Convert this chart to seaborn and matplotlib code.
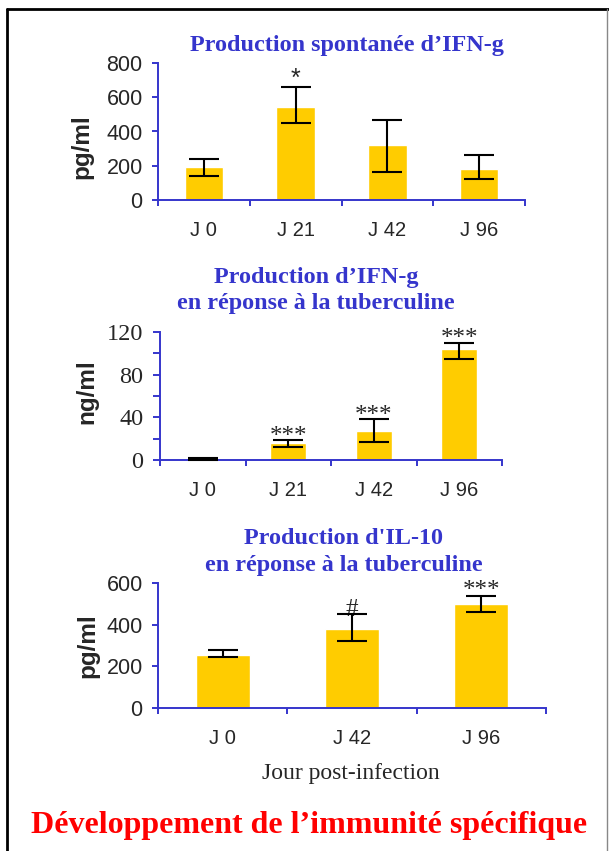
import numpy as np
import pandas as pd
import matplotlib
matplotlib.use("Agg")
import matplotlib.pyplot as plt
import seaborn as sns
from matplotlib.lines import Line2D

# Données
jours_ifn = ["J 0", "J 21", "J 42", "J 96"]
ifn_spont = [190, 545, 320, 180]
ifn_spont_bas = [140, 450, 165, 120]
ifn_spont_haut = [240, 660, 470, 260]
ifn_spont_sig = ["", "*", "", ""]

ifn_tub = [0.6, 16, 27, 104]
ifn_tub_bas = [0.4, 12, 17, 95]
ifn_tub_haut = [1.8, 19, 38, 110]
ifn_tub_sig = ["", "***", "***", "***"]

jours_il10 = ["J 0", "J 42", "J 96"]
il10 = [255, 380, 500]
il10_bas = [245, 320, 460]
il10_haut = [280, 450, 540]
il10_sig = ["", "#", "***"]

BLEU = "#3535cc"
JAUNE = "#ffcc00"
SANS = ["Liberation Sans", "DejaVu Sans"]
SERIF = ["Liberation Serif", "DejaVu Serif"]

sns.set_style("white")
plt.rcParams["font.family"] = SANS

fig = plt.figure(figsize=(6.09, 8.51), dpi=100)


def panneau(rect, jours, valeurs, bas, haut, sig, ymax, yticks, ylabel,
            police_y, taille_y, label_xy, minor_y=None, sig_offset=0, tick_len=4):
    ax = fig.add_axes(rect)
    df = pd.DataFrame({"jour": jours, "val": valeurs})
    sns.barplot(data=df, x="jour", y="val", color=JAUNE, width=0.42,
                saturation=1, ax=ax, errorbar=None)
    pos = np.arange(len(jours))
    yerr = [np.array(valeurs) - np.array(bas), np.array(haut) - np.array(valeurs)]
    ax.errorbar(pos, valeurs, yerr=yerr, fmt="none", ecolor="black",
                elinewidth=1.5, capsize=11, capthick=1.5, clip_on=False, zorder=4)
    for p, h, s in zip(pos, haut, sig):
        if s:
            fam = SANS if s == "*" else SERIF
            ax.annotate(s, (p, h), xytext=(0, sig_offset), textcoords="offset points",
                        ha="center", va="baseline", fontsize=18, family=fam)
    ax.set_xlim(-0.5, len(jours) - 0.5)
    ax.set_ylim(0, ymax)
    for side in ["top", "right"]:
        ax.spines[side].set_visible(False)
    for side in ["left", "bottom"]:
        ax.spines[side].set_color(BLEU)
        ax.spines[side].set_linewidth(1.4)
    ax.set_xticks(np.arange(len(jours) + 1) - 0.5)
    ax.set_xticklabels([])
    ax.set_xticks(pos, minor=True)
    ax.set_xticklabels(jours, minor=True)
    ax.tick_params(axis="x", which="major", direction="out", length=4,
                   width=1.4, color=BLEU, bottom=True)
    ax.tick_params(axis="x", which="minor", length=0, pad=15,
                   labelsize=14.5, labelfontfamily=SANS)
    ax.set_yticks(yticks)
    ax.set_yticklabels([str(t) for t in yticks])
    if minor_y is not None:
        ax.set_yticks(minor_y, minor=True)
    ax.tick_params(axis="y", which="both", direction="out", length=tick_len,
                   width=1.4, color=BLEU, left=True, pad=7)
    ax.tick_params(axis="y", which="major", labelsize=taille_y,
                   labelfontfamily=police_y)
    ax.set_xlabel("")
    ax.set_ylabel(ylabel, fontsize=17.5, fontweight="bold", family=SANS, va="center")
    ax.yaxis.set_label_coords(*label_xy)
    return ax


ax1 = panneau([158 / 609, 1 - 200 / 851, 367 / 609, 137 / 851], jours_ifn,
              ifn_spont, ifn_spont_bas, ifn_spont_haut, ifn_spont_sig,
              800, [0, 200, 400, 600, 800], "pg/ml", SANS, 15.5,
              ((82 - 158) / 367, 0.387), sig_offset=1)

ax2 = panneau([160 / 609, 1 - 460 / 851, 342 / 609, 128 / 851], jours_ifn,
              ifn_tub, ifn_tub_bas, ifn_tub_haut, ifn_tub_sig,
              120, [0, 40, 80, 120], "ng/ml", SERIF, 17.5,
              ((87 - 160) / 342, 1 - (392 - 332) / 128),
              minor_y=[20, 60, 100], sig_offset=-2, tick_len=5)

ax3 = panneau([158 / 609, 1 - 708 / 851, 388 / 609, 125 / 851], jours_il10,
              il10, il10_bas, il10_haut, il10_sig,
              600, [0, 200, 400, 600], "pg/ml", SANS, 15.5,
              ((88 - 158) / 388, 0.5), sig_offset=-1)

# Titres
titre = dict(color=BLEU, fontweight="bold", family=SERIF, fontsize=17.4,
             ha="center", va="center")
fig.text(347 / 609, 1 - 45 / 851, "Production spontanée d’IFN-g", **titre)
fig.text(316 / 609, 1 - 278 / 851, "Production d’IFN-g", **titre)
fig.text(316 / 609, 1 - 303 / 851, "en réponse à la tuberculine", **titre)
fig.text(344 / 609, 1 - 538 / 851, "Production d'IL-10", **titre)
fig.text(344 / 609, 1 - 566 / 851, "en réponse à la tuberculine", **titre)

fig.text(351 / 609, 1 - 773 / 851, "Jour post-infection", family=SERIF,
         fontsize=17, ha="center", va="center")
fig.text(309 / 609, 1 - 826 / 851, "Développement de l’immunité spécifique",
         family=SERIF, fontsize=23, fontweight="bold", color="red",
         ha="center", va="center")

# Cadre
fig.add_artist(Line2D([7 / 609, 7 / 609], [0, 1 - 9 / 851], color="black", lw=2))
fig.add_artist(Line2D([7 / 609, 1], [1 - 9 / 851, 1 - 9 / 851], color="black", lw=2))
fig.add_artist(Line2D([607 / 609, 607 / 609], [0, 1 - 9 / 851], color="#888888", lw=1))

fig.savefig("out.png", dpi=100)
